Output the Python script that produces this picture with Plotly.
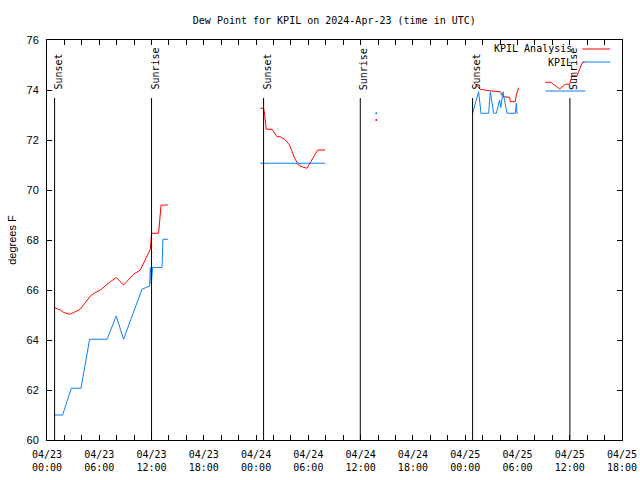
import plotly.graph_objects as go
import pandas as pd

BASE = pd.Timestamp("2024-04-23 00:00")

# ---- data: hours after 2024-04-23 00:00 UTC, values in degrees F ----
analysis_segments = [
    ([0.87, 1.53, 1.91, 2.67, 3.82, 4.97, 5.54, 6.12, 7.27, 7.95, 8.79, 9.37, 9.94,
      10.71, 11.27, 11.86, 12.0, 12.81, 13.09, 13.87],
     [65.29, 65.2, 65.1, 65.03, 65.23, 65.76, 65.9, 66.0, 66.33, 66.5, 66.2, 66.43, 66.63,
      66.8, 67.2, 67.63, 68.27, 68.27, 69.4, 69.4]),
    ([24.48, 24.86, 24.94, 25.17, 25.83, 26.4, 26.78, 27.36, 27.85, 28.42, 28.88, 29.27,
      29.84, 30.22, 31.06, 31.94],
     [73.27, 73.27, 73.13, 72.43, 72.43, 72.13, 72.13, 72.0, 71.8, 71.27, 71.0, 70.93,
      70.87, 71.1, 71.6, 71.6]),
    ([48.93, 49.54, 49.74, 50.8, 52.03, 52.34, 53.1, 53.18, 53.75, 53.87, 54.13],
     [74.33, 74.07, 74.03, 73.97, 73.93, 73.73, 73.71, 73.53, 73.53, 73.8, 74.09]),
    ([57.2, 57.85, 58.84, 59.49, 59.99, 60.26, 60.84, 61.41, 61.71],
     [74.31, 74.31, 74.04, 74.23, 74.23, 74.57, 74.57, 75.07, 75.13]),
]
obs_segments = [
    ([0.87, 1.79, 2.79, 3.9, 4.89, 6.89, 7.95, 8.79, 10.9, 11.78, 11.86, 11.96, 12.12,
      13.2, 13.31, 13.87],
     [61.0, 61.0, 62.07, 62.07, 64.03, 64.03, 64.96, 64.03, 66.03, 66.16, 66.9, 66.25,
      66.9, 66.9, 68.03, 68.03]),
    ([24.48, 25.17, 26.4, 27.85, 29.27, 30.22, 31.94],
     [71.07, 71.07, 71.07, 71.07, 71.07, 71.07, 71.07]),
    ([48.85, 49.54, 49.82, 50.69, 50.89, 51.27, 51.58, 51.95, 52.09, 52.34, 52.8, 53.75,
      53.87, 53.95, 54.06],
     [73.07, 73.93, 73.07, 73.07, 73.93, 73.07, 73.07, 73.6, 73.3, 73.93, 73.07, 73.07,
      73.47, 73.07, 73.07]),
    ([57.2, 61.79], [73.96, 73.96]),
]
analysis_dots = ([37.8], [72.8])
obs_dots = ([37.8], [73.07])

sun_hours = [0.87, 12.0, 24.86, 35.96, 48.85, 60.02]
sun_labels = ["Sunset", "Sunrise", "Sunset", "Sunrise", "Sunset", "Sunrise"]
sun_line_top = 73.68

x_span_hours = 66
tick_step_hours = 2
label_step_hours = 6

RED = "#ff0000"
BLUE = "#0a80f5"


def to_time(hours):
    return BASE + pd.to_timedelta(hours, unit="h")


fig = go.Figure()
for hrs, vals in analysis_segments:
    fig.add_trace(go.Scatter(x=to_time(hrs), y=vals, mode="lines",
                             line=dict(color=RED, width=1), showlegend=False))
for hrs, vals in obs_segments:
    fig.add_trace(go.Scatter(x=to_time(hrs), y=vals, mode="lines",
                             line=dict(color=BLUE, width=1), showlegend=False))
fig.add_trace(go.Scatter(x=to_time(obs_dots[0]), y=obs_dots[1], mode="markers",
                         marker=dict(color=BLUE, size=2), showlegend=False))
fig.add_trace(go.Scatter(x=to_time(analysis_dots[0]), y=analysis_dots[1], mode="markers",
                         marker=dict(color=RED, size=2), showlegend=False))

MONO = "DejaVu Sans Mono"
SANS = "Liberation Sans"

# sunrise / sunset markers
for h, lab in zip(sun_hours, sun_labels):
    t = to_time(h)
    fig.add_shape(type="line", xref="x", yref="y", x0=t, x1=t, y0=60, y1=sun_line_top,
                  line=dict(color="black", width=1))
    fig.add_annotation(x=t, y=73.92, xref="x", yref="y", text=lab, textangle=-90,
                       showarrow=False, xanchor="center", yanchor="bottom", xshift=3,
                       font=dict(family=MONO, size=10, color="black"))

# legend drawn gnuplot-style (text then sample)
W, H, L, T = 575.0, 400.0, 46.7, 40.0
def px(x):
    return (x - L) / W
def py(y):
    return (T + H - y) / H

for text, color, ypix in [("KPIL Analysis", RED, 49), ("KPIL", BLUE, 62)]:
    fig.add_annotation(x=px(574), y=py(ypix), xref="paper", yref="paper", text=text,
                       showarrow=False, xanchor="right", yanchor="middle",
                       font=dict(family=MONO, size=10, color="black"))
    fig.add_shape(type="line", xref="paper", yref="paper", x0=px(582), x1=px(610),
                  y0=py(ypix), y1=py(ypix), line=dict(color=color, width=1))

tick_hours = list(range(0, x_span_hours + 1, tick_step_hours))
tick_vals = [to_time(h) for h in tick_hours]
tick_text = [to_time(h).strftime("%m/%d<br>%H:%M") if h % label_step_hours == 0 else ""
             for h in tick_hours]

fig.update_layout(
    width=640, height=480,
    margin=dict(l=47, r=18, t=40, b=40),
    paper_bgcolor="white", plot_bgcolor="white",
    title=dict(text="Dew Point for KPIL on 2024-Apr-23 (time in UTC)", x=px(334),
               xref="paper", xanchor="center", y=1 - 20 / 480, yanchor="middle",
               font=dict(family=MONO, size=10, color="black")),
)
fig.update_xaxes(
    type="date", range=[to_time(0), to_time(x_span_hours)],
    tickvals=tick_vals, ticktext=tick_text, automargin=False,
    ticks="inside", ticklen=5, tickcolor="black", tickwidth=1,
    showline=True, linecolor="black", linewidth=1, mirror="ticks",
    showgrid=False, zeroline=False, ticklabelstandoff=5,
    tickfont=dict(family=MONO, size=10, color="black"),
)
fig.update_yaxes(
    range=[60, 76], dtick=2, tick0=60, automargin=False,
    ticks="inside", ticklen=5, tickcolor="black", tickwidth=1,
    showline=True, linecolor="black", linewidth=1, mirror="ticks",
    showgrid=False, zeroline=False, ticklabelstandoff=5,
    tickfont=dict(family=SANS, size=11, color="black"),
    title=dict(text="degrees F", font=dict(family=SANS, size=11, color="black"), standoff=7),
)

fig.write_html("out.html", post_script="document.body.style.margin='0';",
               config={"displayModeBar": False})
